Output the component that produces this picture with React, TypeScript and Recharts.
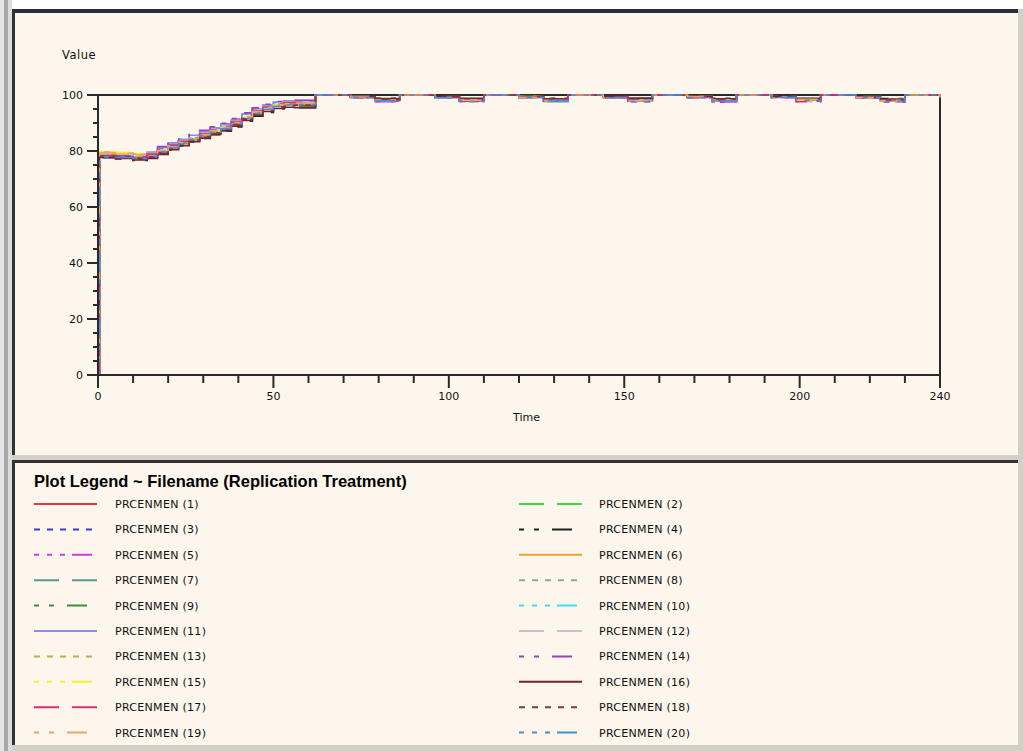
import { LineChart, Line, XAxis, YAxis, ReferenceLine } from "recharts";

// time points
const T = [0, 0.4, 5, 10, 14, 17, 20, 23, 26, 29, 32, 35, 38, 41, 44, 47, 50, 53, 56,
  62, 72, 79, 86, 96, 103, 110, 120, 127, 134, 144, 151, 158, 168, 175, 182, 192, 199, 206, 216, 223, 230, 240];

const s01 = [0, 78.0, 77.8, 77.3, 77.9, 79.6, 81.2, 82.6, 84.0, 85.4, 86.6, 87.9, 89.6, 91.6, 93.4, 94.8, 95.9, 96.5, 96.6,
  100, 99.4, 98.4, 100, 99.2, 97.8, 100, 99.5, 98.6, 100, 99.1, 98.0, 100, 99.3, 98.2, 100, 99.4, 98.5, 100, 99.0, 97.9, 100, 99.6];
const s02 = [0, 79.2, 78.9, 78.4, 79.0, 80.6, 82.2, 83.6, 85.0, 86.3, 87.6, 88.9, 90.6, 92.6, 94.4, 95.8, 96.9, 97.4, 97.5,
  100, 99.2, 98.0, 100, 99.5, 98.4, 100, 99.0, 97.6, 100, 99.3, 98.3, 100, 99.1, 97.9, 100, 99.2, 98.1, 100, 99.4, 98.6, 100, 99.3];
const s03 = [0, 77.8, 77.6, 77.1, 77.8, 79.4, 81.0, 82.4, 83.8, 85.1, 86.4, 87.7, 89.4, 91.4, 93.2, 94.6, 95.7, 96.2, 96.4,
  100, 99.0, 97.8, 100, 99.3, 98.2, 100, 99.4, 97.9, 100, 99.0, 97.6, 100, 99.4, 98.3, 100, 99.1, 97.8, 100, 99.2, 98.0, 100, 99.2];
const s04 = [0, 77.6, 77.2, 76.6, 77.2, 78.8, 80.4, 81.8, 83.2, 84.5, 85.8, 87.1, 88.6, 90.6, 92.4, 93.8, 95.0, 95.5, 95.5,
  100, 99.6, 98.8, 100, 99.4, 98.6, 100, 99.5, 98.8, 100, 99.5, 98.7, 100, 99.6, 98.8, 100, 99.3, 98.4, 100, 99.5, 98.7, 100, 99.4];
const s05 = [0, 78.4, 78.2, 77.9, 79.4, 81.0, 82.8, 84.2, 85.6, 86.9, 88.2, 89.6, 91.4, 93.3, 95.0, 96.3, 97.3, 97.8, 97.9,
  100, 99.1, 97.6, 100, 99.0, 97.7, 100, 99.2, 98.1, 100, 99.3, 98.0, 100, 99.0, 97.5, 100, 99.1, 98.0, 100, 98.9, 97.6, 100, 99.5];
const s06 = [0, 79.6, 79.3, 78.9, 78.9, 80.0, 81.6, 83.0, 84.3, 85.6, 86.9, 88.2, 89.8, 91.8, 93.6, 95.0, 96.1, 96.6, 96.7,
  100, 99.3, 98.3, 100, 99.4, 98.5, 100, 99.3, 98.2, 100, 99.2, 98.4, 100, 99.5, 98.6, 100, 99.4, 98.3, 100, 99.3, 98.2, 100, 99.6];
const s07 = [0, 78.2, 78.0, 77.6, 78.6, 80.2, 81.8, 83.2, 84.6, 85.9, 87.2, 88.5, 90.2, 92.2, 94.0, 95.4, 96.5, 97.0, 97.1,
  100, 99.4, 98.5, 100, 99.2, 98.2, 100, 99.4, 98.4, 100, 99.0, 97.9, 100, 99.3, 98.4, 100, 99.5, 98.7, 100, 99.1, 98.0, 100, 99.4];
const s08 = [0, 78.8, 78.5, 78.1, 78.8, 80.4, 82.0, 83.4, 84.8, 86.1, 87.4, 88.7, 90.6, 92.8, 94.6, 95.8, 96.7, 97.2, 97.3,
  100, 99.2, 98.1, 100, 99.0, 97.6, 100, 99.1, 98.0, 100, 99.4, 98.5, 100, 99.2, 98.1, 100, 99.0, 97.7, 100, 99.3, 98.4, 100, 99.5];
const s09 = [0, 77.9, 77.6, 77.2, 77.6, 79.2, 80.8, 82.2, 83.6, 84.9, 86.2, 87.5, 89.2, 91.2, 93.0, 94.4, 95.5, 96.0, 96.1,
  100, 99.5, 98.6, 100, 99.3, 98.3, 100, 99.6, 98.7, 100, 99.2, 98.1, 100, 99.4, 98.5, 100, 99.2, 98.2, 100, 99.5, 98.6, 100, 99.3];
const s10 = [0, 78.6, 78.4, 78.0, 78.7, 80.3, 81.9, 83.3, 84.7, 86.0, 87.3, 88.6, 90.3, 92.3, 94.1, 95.5, 96.6, 97.1, 97.2,
  100, 99.0, 97.9, 100, 99.1, 97.9, 100, 99.3, 98.3, 100, 99.1, 98.1, 100, 99.2, 98.0, 100, 99.3, 98.3, 100, 99.0, 97.8, 100, 99.1];
const s11 = [0, 78.3, 78.1, 77.8, 79.6, 81.2, 82.8, 84.2, 85.6, 86.9, 88.2, 89.5, 91.2, 93.2, 95.0, 96.4, 97.5, 97.9, 98.0,
  100, 99.3, 98.2, 100, 99.2, 98.0, 100, 99.0, 97.7, 100, 99.4, 98.3, 100, 99.1, 97.8, 100, 99.4, 98.6, 100, 99.2, 98.1, 100, 99.4];
const s12 = [0, 79.0, 78.7, 78.3, 79.1, 80.7, 82.3, 83.7, 85.1, 86.4, 87.7, 89.0, 90.7, 92.7, 94.5, 95.9, 97.0, 97.5, 97.6,
  100, 99.5, 98.6, 100, 99.4, 98.4, 100, 99.2, 98.2, 100, 99.3, 98.1, 100, 99.4, 98.5, 100, 99.1, 98.0, 100, 99.4, 98.5, 100, 99.5];
const s13 = [0, 78.7, 78.4, 78.0, 78.2, 79.8, 81.4, 82.8, 84.2, 85.5, 86.8, 88.1, 89.8, 91.8, 93.6, 95.0, 96.1, 96.6, 96.7,
  100, 99.1, 98.0, 100, 99.3, 98.3, 100, 99.5, 98.5, 100, 99.0, 97.8, 100, 99.3, 98.2, 100, 99.2, 98.1, 100, 99.1, 97.9, 100, 99.2];
const s14 = [0, 78.1, 77.9, 77.6, 79.8, 81.6, 83.2, 84.6, 86.0, 87.4, 88.6, 89.9, 91.6, 93.6, 95.4, 96.7, 97.7, 98.1, 98.1,
  100, 99.0, 97.7, 100, 99.2, 97.9, 100, 99.1, 97.8, 100, 99.2, 98.0, 100, 99.0, 97.4, 100, 99.3, 98.2, 100, 99.0, 97.5, 100, 99.3];
const s15 = [0, 79.8, 79.5, 79.1, 79.0, 80.1, 81.7, 83.1, 84.5, 85.8, 87.1, 88.4, 90.1, 92.1, 93.9, 95.3, 96.4, 96.9, 97.0,
  100, 99.4, 98.4, 100, 99.3, 98.3, 100, 99.4, 98.5, 100, 99.2, 98.2, 100, 99.5, 98.6, 100, 99.2, 98.2, 100, 99.4, 98.4, 100, 99.6];
const s16 = [0, 77.7, 77.3, 76.8, 77.3, 78.9, 80.5, 81.9, 83.3, 84.6, 85.9, 87.2, 88.9, 90.9, 92.7, 94.1, 95.2, 95.6, 95.5,
  100, 99.5, 98.7, 100, 99.6, 98.8, 100, 99.4, 98.6, 100, 99.6, 98.9, 100, 99.5, 98.6, 100, 99.5, 98.8, 100, 99.3, 98.5, 100, 99.5];
const s17 = [0, 78.5, 78.3, 77.9, 78.9, 80.5, 82.1, 83.5, 84.9, 86.2, 87.5, 88.8, 90.5, 92.5, 94.3, 95.7, 96.8, 97.3, 97.4,
  100, 99.2, 98.1, 100, 99.1, 98.0, 100, 99.3, 98.3, 100, 99.3, 98.2, 100, 99.2, 98.1, 100, 99.0, 97.6, 100, 99.3, 98.3, 100, 99.4];
const s18 = [0, 78.2, 77.9, 77.5, 77.9, 79.5, 81.1, 82.5, 83.9, 85.2, 86.5, 87.8, 89.5, 91.5, 93.3, 94.7, 95.8, 96.3, 96.4,
  100, 99.4, 98.5, 100, 99.3, 98.3, 100, 99.5, 98.6, 100, 99.1, 98.0, 100, 99.4, 98.4, 100, 99.3, 98.4, 100, 99.2, 98.2, 100, 99.5];
const s19 = [0, 79.4, 79.1, 78.7, 78.8, 80.2, 81.8, 83.2, 84.6, 85.9, 87.2, 88.5, 90.2, 92.2, 94.0, 95.4, 96.5, 97.0, 97.1,
  100, 99.3, 98.2, 100, 99.2, 98.1, 100, 99.2, 98.0, 100, 99.1, 97.9, 100, 99.4, 98.3, 100, 99.4, 98.5, 100, 99.1, 98.0, 100, 99.3];
const s20 = [0, 77.9, 77.7, 77.3, 78.1, 79.7, 81.3, 82.7, 84.1, 85.4, 86.7, 88.0, 89.7, 91.7, 93.5, 94.9, 96.0, 96.5, 96.6,
  100, 99.1, 97.9, 100, 99.0, 97.7, 100, 99.2, 98.0, 100, 99.0, 97.7, 100, 99.1, 97.9, 100, 99.2, 98.1, 100, 99.1, 97.7, 100, 99.0];

const SERIES = [s01, s02, s03, s04, s05, s06, s07, s08, s09, s10, s11, s12, s13, s14, s15, s16, s17, s18, s19, s20];

const NAMES = [
  "PRCENMEN (1)", "PRCENMEN (2)", "PRCENMEN (3)", "PRCENMEN (4)", "PRCENMEN (5)",
  "PRCENMEN (6)", "PRCENMEN (7)", "PRCENMEN (8)", "PRCENMEN (9)", "PRCENMEN (10)",
  "PRCENMEN (11)", "PRCENMEN (12)", "PRCENMEN (13)", "PRCENMEN (14)", "PRCENMEN (15)",
  "PRCENMEN (16)", "PRCENMEN (17)", "PRCENMEN (18)", "PRCENMEN (19)", "PRCENMEN (20)",
];

const X_TICKS = [0, 10, 20, 30, 40, 50, 60, 70, 80, 90, 100, 110, 120, 130, 140, 150, 160, 170, 180, 190, 200, 210, 220, 230, 240];
const X_MAJOR = [0, 50, 100, 150, 200, 240];
const Y_TICKS = [0, 5, 10, 15, 20, 25, 30, 35, 40, 45, 50, 55, 60, 65, 70, 75, 80, 85, 90, 95, 100];
const Y_MAJOR = [0, 20, 40, 60, 80, 100];

const COLORS = [
  "#e03a3a", "#44d444", "#3a3ad8", "#202020", "#d43ad4",
  "#f0a030", "#5a9a8c", "#a0a0a0", "#3c8c3c", "#40dcec",
  "#8c8ce0", "#c4c4c4", "#b4b448", "#9440c8", "#f4f424",
  "#702434", "#d4307c", "#843838", "#f0a464", "#4c8cd4",
];
// solid, long dash, short dash, dash-dash-long, dash-dash-dash-long
const DASHES = [undefined, "25 13", "6 7", "5 10 5 13 20 10", "5 8 5 8 5 7 20 8"];

const rows = T.map((t, i) => {
  const r: Record<string, number> = { t };
  SERIES.forEach((s, k) => { r[`s${k + 1}`] = s[i]; });
  return r;
});

const INK = "#2a2a2a";
const CREAM = "#fdf6ec";
const FONT = '"DejaVu Sans", sans-serif';

function XTick(props: any) {
  const { x, y, payload } = props;
  const major = X_MAJOR.includes(payload.value);
  return (
    <g>
      <line x1={x} y1={y} x2={x} y2={y + (major ? 13 : 8)} stroke={INK} strokeWidth={2} />
      {major && (
        <text x={x} y={y + 25} textAnchor="middle" fontSize={11} fontFamily={FONT} fill="#111">
          {payload.value}
        </text>
      )}
    </g>
  );
}

function YTick(props: any) {
  const { x, y, payload } = props;
  const major = Y_MAJOR.includes(payload.value);
  return (
    <g>
      <line x1={x - (major ? 11 : 5)} y1={y} x2={x} y2={y} stroke={INK} strokeWidth={2} />
      {major && (
        <text x={x - 15} y={y + 4} textAnchor="end" fontSize={11} fontFamily={FONT} fill="#111">
          {payload.value}
        </text>
      )}
    </g>
  );
}

export default function App() {
  return (
    <div style={{ position: "absolute", left: 0, top: 0, width: 1023, height: 751, background: "#fff", overflow: "hidden", fontFamily: FONT }}>
      {/* window frame */}
      <div style={{ position: "absolute", left: 0, top: 0, width: 4, height: 751, background: "#e6e6e6" }} />
      <div style={{ position: "absolute", left: 4, top: 0, width: 4, height: 751, background: "#a8a8a8" }} />
      <div style={{ position: "absolute", left: 8, top: 0, width: 4, height: 751, background: "#dcdcdc" }} />
      <div style={{ position: "absolute", left: 12, top: 9, width: 1011, height: 742, background: "#d4d0c8" }} />
      {/* plot panel */}
      <div style={{ position: "absolute", left: 12, top: 9, width: 1003, height: 442, background: CREAM, borderTop: "4px solid #2b2b3b", borderLeft: "3px solid #333" }} />
      {/* legend panel */}
      <div style={{ position: "absolute", left: 12, top: 460, width: 1003, height: 282, background: CREAM, borderTop: "3px solid #333", borderLeft: "3px solid #333" }} />

      <div style={{ position: "absolute", left: 62, top: 48, fontSize: 11.5, letterSpacing: 0.5, color: "#111" }}>Value</div>
      <div style={{ position: "absolute", left: 513, top: 411, fontSize: 11, color: "#111" }}>Time</div>

      <div style={{ position: "absolute", left: 0, top: 0 }}>
        <LineChart width={1023} height={450} data={rows} margin={{ top: 95, right: 83, left: 48, bottom: 45 }}>
          <XAxis
            dataKey="t" type="number" domain={[0, 240]} ticks={X_TICKS} interval={0}
            tickSize={0} tickMargin={0} tickLine={false} height={30}
            axisLine={{ stroke: INK, strokeWidth: 2 }}
            tick={(p: any) => <XTick {...p} />}
          />
          <YAxis
            type="number" domain={[0, 100]} ticks={Y_TICKS} interval={0}
            tickSize={0} tickMargin={0} tickLine={false} width={50}
            axisLine={{ stroke: INK, strokeWidth: 2 }}
            tick={(p: any) => <YTick {...p} />}
          />
          <ReferenceLine y={100} stroke={INK} strokeWidth={2} />
          <ReferenceLine x={240} stroke={INK} strokeWidth={2} />
          {SERIES.map((_, k) => (
            <Line
              key={k}
              type="stepAfter"
              dataKey={`s${k + 1}`}
              name={NAMES[k]}
              stroke={COLORS[k]}
              strokeDasharray={DASHES[k % 5]}
              strokeWidth={1.6}
              dot={false}
              isAnimationActive={false}
            />
          ))}
        </LineChart>
      </div>

      {/* legend */}
      <svg style={{ position: "absolute", left: 0, top: 0 }} width={1023} height={751}>
        <text x={34} y={487} fontSize={16.5} fontWeight="bold" fontFamily='"Liberation Sans", Arial, sans-serif' fill="#000">
          Plot Legend ~ Filename (Replication Treatment)
        </text>
        {NAMES.map((name, k) => {
          const row = Math.floor(k / 2);
          const right = k % 2 === 1;
          const y = 504 + row * 25.4;
          const x0 = right ? 519 : 34;
          return (
            <g key={name}>
              <line x1={x0} y1={y} x2={x0 + 63} y2={y} stroke={COLORS[k]} strokeWidth={2} strokeDasharray={DASHES[k % 5]} />
              <text x={right ? 599 : 115} y={y + 4} fontSize={11} letterSpacing={0.3} fontFamily={FONT} fill="#111">
                {name}
              </text>
            </g>
          );
        })}
      </svg>
    </div>
  );
}
